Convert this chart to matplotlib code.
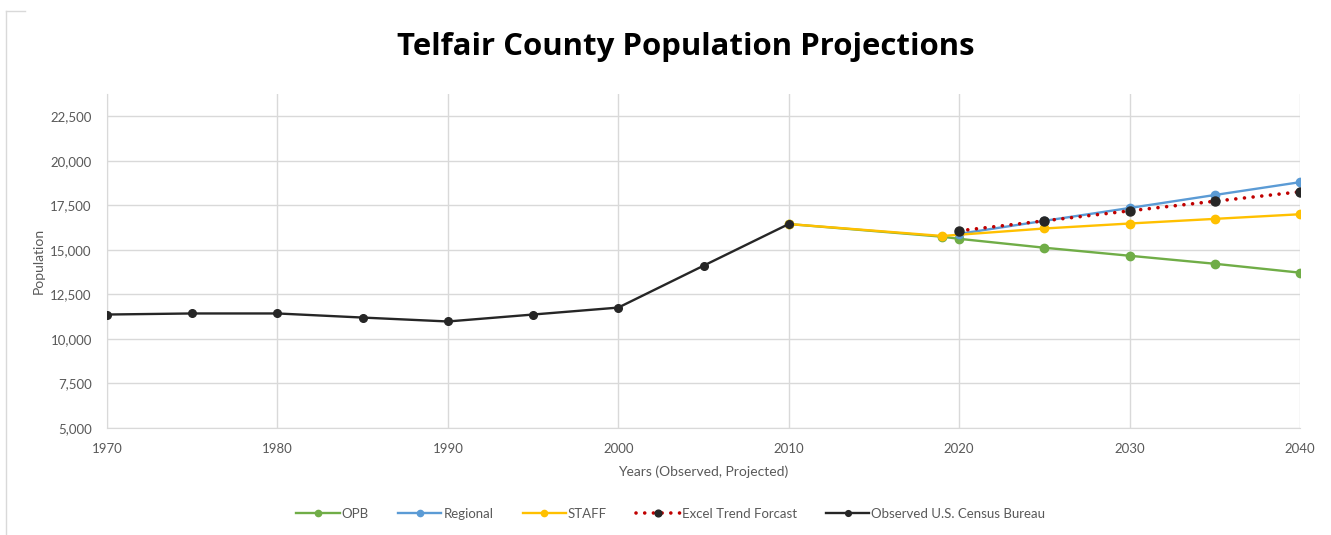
import numpy as np
import matplotlib
matplotlib.use("Agg")
import matplotlib.pyplot as plt
from matplotlib.lines import Line2D

# observed census values
obs_years = [1970, 1975, 1980, 1985, 1990, 1995, 2000, 2005, 2010]
obs_pop = [11370, 11430, 11430, 11200, 10980, 11370, 11760, 14110, 16450]

opb_years = [2010, 2019, 2020, 2025, 2030, 2035, 2040]
opb_pop = [16450, 15740, 15620, 15120, 14670, 14220, 13720]

reg_years = [2020, 2025, 2030, 2035, 2040]
reg_pop = [15900, 16630, 17350, 18080, 18800]

staff_years = [2010, 2019, 2025, 2030, 2035, 2040]
staff_pop = [16450, 15780, 16200, 16480, 16740, 17000]

trend_years = [2020, 2025, 2030, 2035, 2040]
trend_pop = [16070, 16630, 17190, 17730, 18260]

xticks = [1970, 1980, 1990, 2000, 2010, 2020, 2030, 2040]
yticks = [5000, 7500, 10000, 12500, 15000, 17500, 20000, 22500]

plt.rcParams['font.family'] = ['Lato', 'DejaVu Sans']

fig = plt.figure(figsize=(13.31, 5.35), dpi=100)
ax = fig.add_axes([0.0804, 0.2, 0.8963, 0.6243])

grey = '#595959'
grid_c = '#d9d9d9'
ms = 6
lw = 1.7

ax.plot(opb_years, opb_pop, color='#70AD47', lw=lw, marker='o', ms=ms, label='OPB', zorder=3)
ax.plot(reg_years, reg_pop, color='#5B9BD5', lw=lw, marker='o', ms=ms, label='Regional', zorder=3)
ax.plot(staff_years, staff_pop, color='#FFC000', lw=lw, marker='o', ms=ms, label='STAFF', zorder=4)
ax.plot(trend_years, trend_pop, color='#C00000', lw=2.6, ls=(0, (0.01, 2.4)), dash_capstyle='round',
        marker='o', ms=ms + 0.5, mfc='#262626', mec='#262626', label='Excel Trend Forcast', zorder=5)
ax.plot(obs_years, obs_pop, color='#262626', lw=lw, marker='o', ms=ms - 0.5, label='Observed U.S. Census Bureau', zorder=6)

ax.set_xlim(1970, 2040)
ax.set_ylim(5000, 23750)
ax.set_xticks(xticks)
ax.set_yticks(yticks)
ax.set_yticklabels([f'{v:,}' for v in yticks])
ax.tick_params(axis='both', length=0, labelsize=9.5, labelcolor=grey)
ax.tick_params(axis='y', pad=11)
ax.tick_params(axis='x', pad=11)
ax.grid(True, color=grid_c, lw=1)
ax.set_axisbelow(True)
for s in ['top', 'right']:
    ax.spines[s].set_visible(False)
for s in ['left', 'bottom']:
    ax.spines[s].set_color(grid_c)

ax.set_xlabel('Years (Observed, Projected)', fontsize=10, color=grey, labelpad=7)
ax.set_ylabel('Population', fontsize=10, color=grey, labelpad=4)

fig.text(0.515, 0.912, 'Telfair County Population Projections', fontsize=22.4, fontweight='bold',
         ha='center', va='center', family=['Open Sans', 'DejaVu Sans'])

handles, labels = ax.get_legend_handles_labels()
leg = fig.legend(handles, labels, loc='center', bbox_to_anchor=(0.504, 0.04), ncol=5, frameon=False,
                 fontsize=9.5, handlelength=3.3, columnspacing=2.2, handletextpad=0.15, markerscale=0.75)
for t in leg.get_texts():
    t.set_color(grey)

# chart border remnants
fig.add_artist(Line2D([0.0045, 0.0045], [0.0, 0.979], color=grid_c, lw=1))
fig.add_artist(Line2D([0.0045, 0.019], [0.979, 0.979], color=grid_c, lw=1))

fig.savefig('out.png', dpi=100)
